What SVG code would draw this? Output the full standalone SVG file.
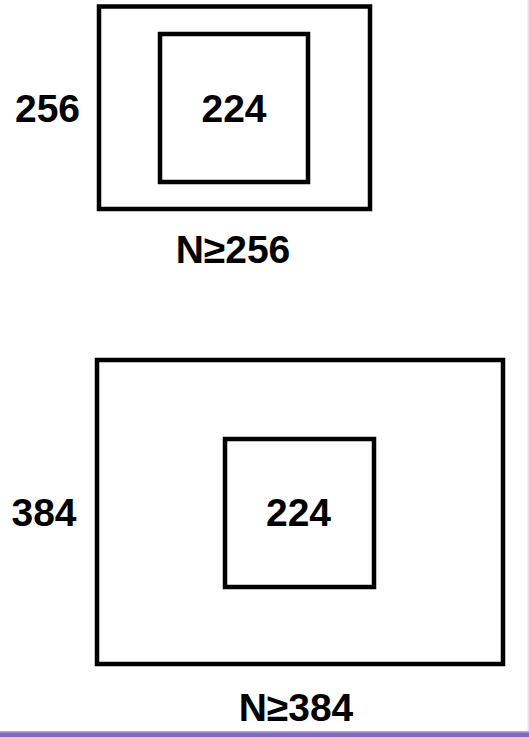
<svg xmlns="http://www.w3.org/2000/svg" width="529" height="737" viewBox="0 0 529 737">
<style>
.box{fill:none;stroke:#000;stroke-width:4.5}
.t{font-family:"Liberation Sans",Arial,sans-serif;font-weight:bold;font-size:39px;fill:#000;text-anchor:middle}
</style>
<rect x="0" y="0" width="529" height="737" fill="#fff"/>
<g id="outer1"><rect class="box" x="99" y="6.5" width="271" height="202.5"/></g>
<g id="inner1"><rect class="box" x="160" y="34" width="148" height="148"/><text class="t" x="234" y="122">224</text></g>
<text class="t" x="47.5" y="122">256</text>
<text class="t" x="233" y="263" font-size="38">N≥256</text>
<g id="outer2"><rect class="box" x="97" y="360" width="406" height="304"/></g>
<g id="inner2"><rect class="box" x="225" y="439" width="149" height="148"/><text class="t" x="298.5" y="526">224</text></g>
<text class="t" x="44" y="526">384</text>
<text class="t" x="296" y="721" font-size="38">N≥384</text>
<g id="connectors"></g>
<rect x="0" y="731" width="529" height="6" fill="#7f6bbb"/>
<rect x="0" y="731" width="529" height="1.5" fill="#b3a6da"/>
<rect x="527.5" y="0" width="1.5" height="731" fill="#e6e0f4"/>
</svg>
